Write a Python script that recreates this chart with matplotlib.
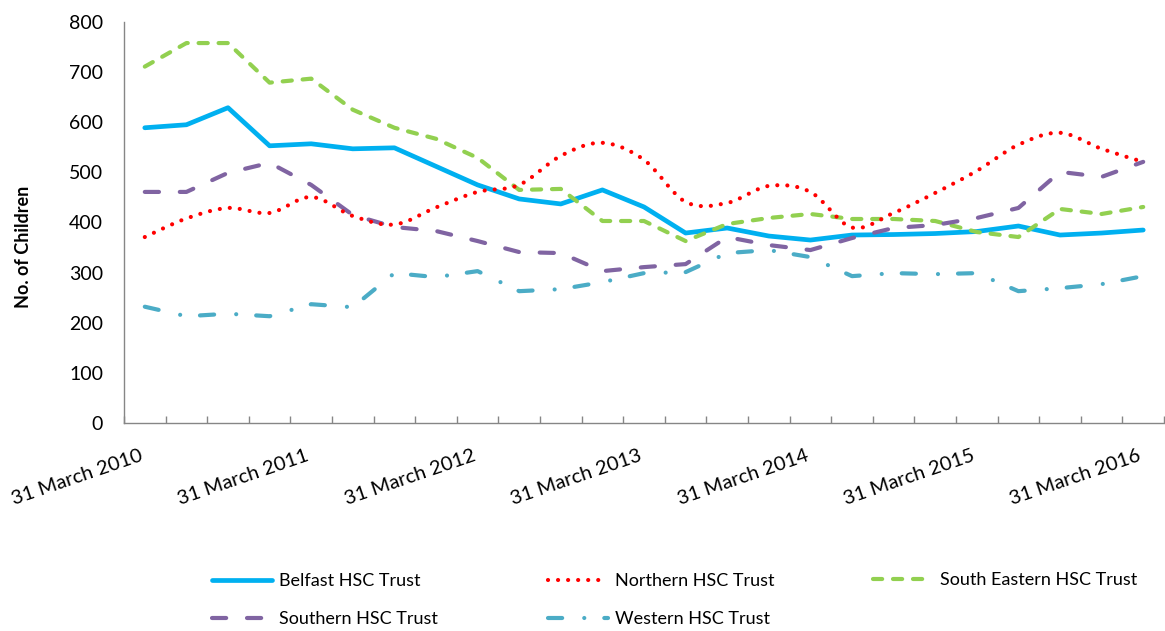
import matplotlib
matplotlib.use("Agg")
import matplotlib.pyplot as plt
import numpy as np
from matplotlib.path import Path
from matplotlib.patches import PathPatch
from matplotlib.lines import Line2D

plt.rcParams['font.family'] = ['Lato', 'DejaVu Sans']

# ---- data ----
quarters = list(range(25))  # quarterly, 31 March 2010 .. 31 March 2016
tick_labels = ["31 March 2010", "31 March 2011", "31 March 2012", "31 March 2013",
               "31 March 2014", "31 March 2015", "31 March 2016"]
belfast = [589, 595, 629, 553, 557, 547, 549, 512, 475, 447, 437, 465, 431,
           379, 389, 373, 365, 375, 376, 378, 382, 393, 375, 379, 385]
northern = [371, 408, 429, 419, 451, 413, 396, 430, 461, 475, 533, 559, 525,
            441, 439, 473, 461, 390, 419, 459, 503, 555, 579, 547, 521]
south_eastern = [711, 758, 758, 679, 687, 625, 589, 567, 529, 465, 467, 403, 403,
                 363, 397, 409, 417, 407, 407, 403, 381, 371, 427, 417, 431]
southern = [461, 461, 499, 519, 475, 415, 391, 383, 363, 341, 339, 303, 311,
            317, 371, 355, 345, 369, 389, 395, 409, 429, 501, 491, 521]
western = [232, 213, 218, 213, 237, 231, 299, 291, 303, 263, 267, 281, 299,
           301, 339, 345, 331, 293, 299, 297, 299, 263, 269, 277, 293]
series_names = ["Belfast HSC Trust", "Northern HSC Trust", "South Eastern HSC Trust",
                "Southern HSC Trust", "Western HSC Trust"]

W, H = 1165, 631
fig = plt.figure(figsize=(W / 100, H / 100), dpi=100)
ax = fig.add_axes([124 / W, (H - 423) / H, (1164 - 124) / W, (423 - 22) / H])

x = np.array(quarters, dtype=float)

lw = 3.0
h_bel, = ax.plot(x, belfast, color='#00B0F0', lw=3.4, solid_joinstyle='round',
                 solid_capstyle='round', label=series_names[0], zorder=3)
h_se, = ax.plot(x, south_eastern, color='#92D050', lw=lw, linestyle=(0, (2.2, 2.6)),
                dash_capstyle='round', dash_joinstyle='round', label=series_names[2], zorder=3)
h_so, = ax.plot(x, southern, color='#8064A2', lw=lw, linestyle=(0, (3.4, 5.0)),
                dash_capstyle='round', dash_joinstyle='round', label=series_names[3], zorder=3)
h_we, = ax.plot(x, western, color='#4BACC6', lw=lw, linestyle=(0, (3.4, 5.3, 0.01, 4.8)),
                dash_capstyle='round', dash_joinstyle='round', label=series_names[4], zorder=3)

# Northern: smoothed line (Excel style Bezier through the data points)
P = np.column_stack([x, np.array(northern, dtype=float)])
n = len(P)
verts = [tuple(P[0])]
codes = [Path.MOVETO]
for i in range(n - 1):
    p_prev = P[i - 1] if i > 0 else P[i]
    p_next2 = P[i + 2] if i + 2 < n else P[i + 1]
    c1 = P[i] + (P[i + 1] - p_prev) / 6.0
    c2 = P[i + 1] - (p_next2 - P[i]) / 6.0
    verts += [tuple(c1), tuple(c2), tuple(P[i + 1])]
    codes += [Path.CURVE4] * 3
north_style = (0, (0.01, 2.4))
patch = PathPatch(Path(verts, codes), fill=False, edgecolor='#FF0000', lw=lw,
                  linestyle=north_style, capstyle='round', zorder=3)
ax.add_patch(patch)
h_no = Line2D([], [], color='#FF0000', lw=lw, linestyle=north_style,
              dash_capstyle='round', label=series_names[1])

ax.set_xlim(-0.5, 24.5)
ax.set_ylim(0, 800)
ax.set_yticks(range(0, 801, 100))
ax.tick_params(axis='y', length=0, pad=15, labelsize=14, labelcolor='black')

# category boundary tick marks (inward), labels every 4 quarters
ax.set_xticks(np.arange(-0.5, 25, 1.0))
ax.set_xticklabels([])
ax.tick_params(axis='x', which='major', direction='in', length=5, width=1, color='#868686')
ax.set_xticks(x[::4], minor=True)
ax.set_xticklabels(tick_labels, minor=True, rotation=19, ha='right', va='top',
                   fontsize=14.5)
ax.tick_params(axis='x', which='minor', length=0, pad=17)

for s in ['top', 'right']:
    ax.spines[s].set_visible(False)
for s in ['left', 'bottom']:
    ax.spines[s].set_color('#868686')
    ax.spines[s].set_linewidth(1.0)

ax.set_ylabel("No. of Children", fontsize=13, fontweight='bold')
ax.yaxis.set_label_coords(-0.088, 0.44)

leg_kw = dict(frameon=False, fontsize=13, handlelength=3.3, handletextpad=0.4,
              borderpad=0, borderaxespad=0, labelspacing=1.2)
l1 = fig.legend(handles=[h_bel, h_so], loc='center left',
                bbox_to_anchor=(212 / W, (H - 600) / H), **leg_kw)
l2 = fig.legend(handles=[h_no, h_we], loc='center left',
                bbox_to_anchor=(548 / W, (H - 600) / H), **leg_kw)
l3 = fig.legend(handles=[h_se], loc='center left',
                bbox_to_anchor=(873 / W, (H - 580) / H), **leg_kw)

fig.savefig("out.png", dpi=100)
